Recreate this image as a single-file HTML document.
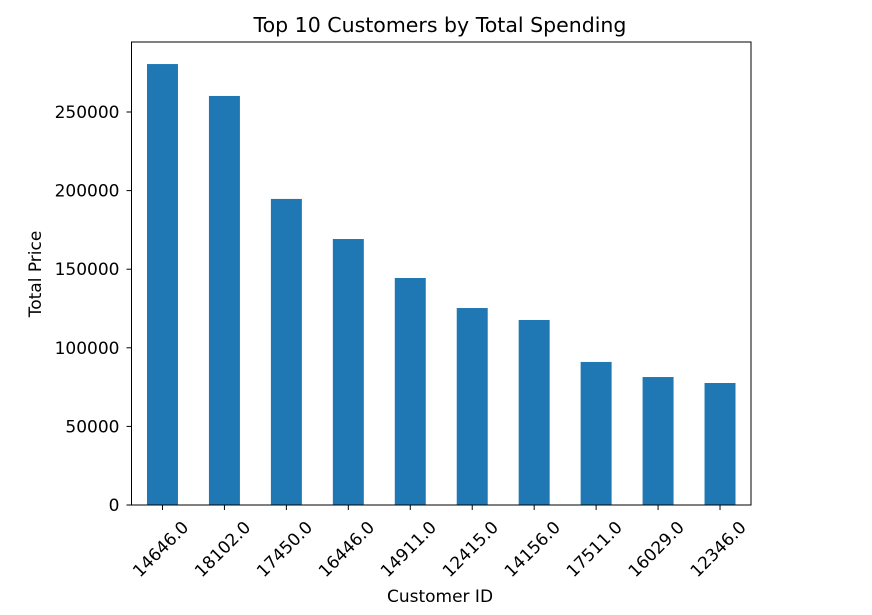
<!DOCTYPE html>
<html><head><meta charset="utf-8"><style>
body{margin:0;background:#fff;}
svg{display:block;font-family:"DejaVu Sans","Liberation Sans",sans-serif;}
</style></head><body>
<svg id="chart" width="872" height="615">
<text x="440" y="32" text-anchor="middle" font-size="20.5" fill="#000">Top 10 Customers by Total Spending</text>
<text transform="translate(41,274) rotate(-90)" text-anchor="middle" font-size="17" fill="#000">Total Price</text>
<text x="440" y="602" text-anchor="middle" font-size="17" fill="#000">Customer ID</text>
<g id="bars"></g>
<g id="axes"></g>
</svg>
<script>
const categories = ["14646.0","18102.0","17450.0","16446.0","14911.0","12415.0","14156.0","17511.0","16029.0","12346.0"];
const totals = [280500, 260200, 194700, 169200, 144400, 125300, 117700, 91000, 81400, 77600];
const yTicks = [0, 50000, 100000, 150000, 200000, 250000];

const L=131.5, R=751, T=42, B=505;
const ns="http://www.w3.org/2000/svg";
const step=(R-L)/categories.length;
function xPos(i){return L+step*(i+0.5);}
function yPos(v){return B - v*(393/250000);}
function mk(tag,attrs,parent){const e=document.createElementNS(ns,tag);for(const k in attrs)e.setAttribute(k,attrs[k]);parent.appendChild(e);return e;}
const bars=document.getElementById('bars'), axes=document.getElementById('axes');
totals.forEach((v,i)=>{
  const r=mk('rect',{x:xPos(i)-step/4,y:yPos(v),width:step/2,height:B-yPos(v),fill:'#1f77b4'},bars);
  
  
});
const frame=mk('rect',{x:L,y:T,width:R-L,height:B-T,fill:'none',stroke:'#000','stroke-width':1},axes);


yTicks.forEach(v=>{
  const y=yPos(v);
  mk('line',{x1:L-5,x2:L,y1:y,y2:y,stroke:'#000'},axes);
  const t=mk('text',{x:L-12,y:y+6,'text-anchor':'end','font-size':17,fill:'#000'},axes);
  t.textContent=v;
  
  
});
categories.forEach((c,i)=>{
  const x=xPos(i);
  mk('line',{x1:x,x2:x,y1:B,y2:B+5,stroke:'#000'},axes);
  const t=mk('text',{transform:`translate(${x-2},${B+44}) rotate(-45)`,'text-anchor':'middle',dy:'0.35em','font-size':17,fill:'#000'},axes);
  t.textContent=c;
  
  
});
</script>
</body></html>
